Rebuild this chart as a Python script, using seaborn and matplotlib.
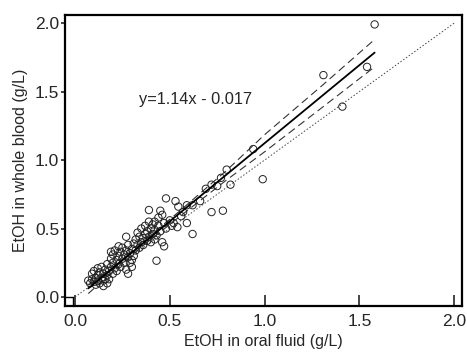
import numpy as np
import pandas as pd
import matplotlib
matplotlib.use("Agg")
import matplotlib.pyplot as plt
import seaborn as sns

# ---- data ----
oral_fluid = [
    0.07, 0.08, 0.09, 0.09, 0.10, 0.10, 0.11, 0.11, 0.12, 0.12, 0.12, 0.13, 0.13, 0.14, 0.14,
    0.15, 0.15, 0.15, 0.16, 0.16, 0.17, 0.17, 0.17, 0.18, 0.18, 0.19, 0.19, 0.20, 0.20, 0.20,
    0.21, 0.21, 0.22, 0.22, 0.23, 0.23, 0.24, 0.24, 0.25, 0.25, 0.26, 0.26, 0.27, 0.27, 0.28,
    0.28, 0.28, 0.29, 0.29, 0.30, 0.30, 0.30, 0.31, 0.31, 0.32, 0.27, 0.23, 0.19,
    0.32, 0.33, 0.33, 0.34, 0.34, 0.35, 0.35, 0.36, 0.36, 0.37, 0.37, 0.38, 0.38, 0.39, 0.39,
    0.39, 0.40, 0.40, 0.41, 0.41, 0.42, 0.42, 0.42, 0.43, 0.43, 0.44, 0.44, 0.45, 0.45, 0.46,
    0.46, 0.47, 0.47, 0.48, 0.48,
    0.50, 0.51, 0.52, 0.53, 0.54, 0.545, 0.56, 0.57, 0.59, 0.59, 0.62, 0.62, 0.66, 0.69, 0.72,
    0.72, 0.75, 0.78, 0.80, 0.82, 0.77,
    0.94, 0.99, 1.31, 1.41, 1.54, 1.58,
]
whole_blood = [
    0.12, 0.10, 0.13, 0.17, 0.11, 0.19, 0.14, 0.09, 0.12, 0.16, 0.21, 0.10, 0.18, 0.14, 0.22,
    0.08, 0.12, 0.17, 0.20, 0.13, 0.10, 0.16, 0.24, 0.19, 0.13, 0.22, 0.28, 0.17, 0.25, 0.31,
    0.21, 0.34, 0.27, 0.19, 0.30, 0.24, 0.33, 0.22, 0.28, 0.36, 0.25, 0.31, 0.20, 0.34, 0.29,
    0.38, 0.17, 0.25, 0.32, 0.35, 0.27, 0.22, 0.39, 0.30, 0.34, 0.44, 0.37, 0.33,
    0.42, 0.38, 0.47, 0.36, 0.44, 0.40, 0.50, 0.43, 0.38, 0.46, 0.52, 0.41, 0.48, 0.44, 0.55,
    0.635, 0.40, 0.50, 0.46, 0.53, 0.42, 0.49, 0.55, 0.265, 0.45, 0.52, 0.58, 0.48, 0.63, 0.40,
    0.60, 0.37, 0.54, 0.72, 0.50,
    0.56, 0.52, 0.54, 0.70, 0.51, 0.66, 0.59, 0.62, 0.67, 0.54, 0.46, 0.67, 0.70, 0.79, 0.82,
    0.62, 0.81, 0.63, 0.93, 0.82, 0.87,
    1.08, 0.86, 1.62, 1.39, 1.68, 1.99,
]

# regression line (y = 1.14x - 0.017) drawn over the data range
fit_x = [0.07, 1.58]
fit_slope = 1.14
fit_intercept = -0.017

# dashed confidence band
band_x = [0.07, 0.20, 0.35, 0.55, 0.80, 1.00, 1.30, 1.58]
band_upper = [0.085, 0.215, 0.395, 0.625, 0.925, 1.185, 1.540, 1.880]
band_lower = [0.025, 0.185, 0.365, 0.585, 0.855, 1.060, 1.380, 1.680]

# line of identity
ident = [0.0, 2.0]

tick_vals = [0.0, 0.5, 1.0, 1.5, 2.0]
tick_labels = ["0.0", "0.5", "1.0", "1.5", "2.0"]

# ---- plotting ----
sns.set_style("ticks")
plt.rcParams["font.family"] = ["Liberation Sans", "DejaVu Sans"]

fig = plt.figure(figsize=(4.67, 3.53), dpi=100)
ax = fig.add_axes([0.139, 0.133, 0.850, 0.825])

df = pd.DataFrame({"of": oral_fluid, "wb": whole_blood})
sns.scatterplot(data=df, x="of", y="wb", ax=ax, marker="o", s=28,
                facecolor="none", edgecolor="#222222", linewidth=0.7, zorder=3)

fx = np.array(fit_x)
fy = fit_slope * fx + fit_intercept
ax.plot(fx, fy, color="black", lw=1.3, zorder=4)
ax.plot(band_x, band_upper, color="#333333", lw=0.8, ls=(0, (7, 4)), zorder=2)
ax.plot(band_x, band_lower, color="#333333", lw=0.8, ls=(0, (7, 4)), zorder=2)
ax.plot(ident, ident, color="#444444", lw=0.7, ls=(0, (1.5, 2)), zorder=1)

ax.text(0.338, 1.44, "y=1.14x - 0.017", fontsize=11.8, ha="left", va="center")

ax.set_xlim(-0.053, 2.04)
ax.set_ylim(-0.066, 2.06)
ax.set_xticks(tick_vals)
ax.set_xticklabels(tick_labels)
ax.set_yticks(tick_vals)
ax.set_yticklabels(tick_labels)
ax.tick_params(axis="x", direction="in", length=8, width=1.2, labelsize=12.5, pad=6)
ax.tick_params(axis="y", direction="out", length=3, width=1.2, labelsize=12.5, pad=1)
for sp in ax.spines.values():
    sp.set_linewidth(1.6)
    sp.set_color("black")

# small corner box near origin
ax.plot([-0.053, -0.01], [0.0, 0.0], color="black", lw=1.0, clip_on=False)
ax.plot([-0.01, -0.01], [-0.066, 0.0], color="black", lw=1.0, clip_on=False)

ax.set_xlabel("EtOH in oral fluid (g/L)", fontsize=11.5, labelpad=3)
ax.set_ylabel("EtOH in whole blood (g/L)", fontsize=11.5, labelpad=5)

fig.savefig("out.png", dpi=100)
